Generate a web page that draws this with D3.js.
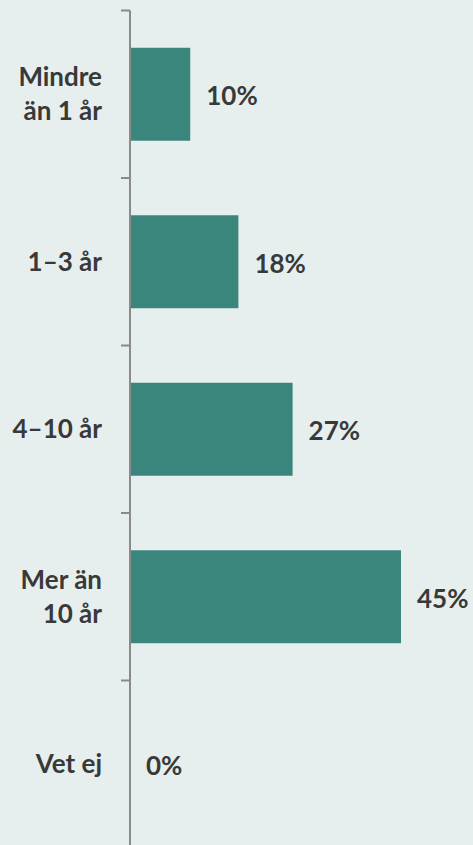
<!DOCTYPE html>
<html>
<head>
<meta charset="utf-8">
<script src="https://cdn.jsdelivr.net/npm/d3@7"></script>
<style>
  html, body { margin: 0; padding: 0; background: #e6efee; }
  svg { display: block; }
</style>
</head>
<body>
<div class="chart"></div>
<script>
const categories = [['Mindre', 'än 1 år'], ['1–3 år'], ['4–10 år'], ['Mer än', '10 år'], ['Vet ej']];
const values = [10, 18, 27, 45, 0];
const valueLabels = ['10%', '18%', '27%', '45%', '0%'];

const width = 473;
const height = 845;
const axisX = 130;
const font = 'Lato, "Open Sans", sans-serif';
const fontSize = 26;

const svg = d3.select('.chart').append('svg')
    .attr('width', width)
    .attr('height', height);

const yScale = d3.scaleBand()
    .domain(d3.range(categories.length))
    .range([10.5, 848])
    .paddingInner(0.445)
    .paddingOuter(0.2225);

const xScale = d3.scaleLinear()
    .domain([0, 45])
    .range([axisX, 401]);

const step = yScale.step();
const offset = step * yScale.paddingOuter();

// bars
svg.append('g').selectAll('rect')
    .data(values)
  .enter().append('rect')
    .attr('x', xScale(0))
    .attr('y', (d, i) => yScale(i))
    .attr('width', d => xScale(d) - xScale(0))
    .attr('height', yScale.bandwidth())
    .attr('fill', '#3a857c');

// axis line + ticks
const axis = svg.append('g').attr('stroke', '#8a8a8a').attr('stroke-width', 2);
axis.append('line')
    .attr('x1', axisX).attr('x2', axisX)
    .attr('y1', 10.5).attr('y2', 848);
axis.selectAll('.tick')
    .data(d3.range(categories.length + 1))
  .enter().append('line')
    .attr('class', 'tick')
    .attr('x1', 121).attr('x2', axisX)
    .attr('y1', i => yScale.range()[0] + i * step)
    .attr('y2', i => yScale.range()[0] + i * step);

// category labels
const catG = svg.append('g')
    .attr('font-family', font)
    .attr('font-weight', 'bold')
    .attr('font-size', fontSize)
    .attr('fill', '#393939')
    .attr('text-anchor', 'end');
categories.forEach((lines, i) => {
  const cy = yScale(i) + yScale.bandwidth() / 2;
  const lh = 34;
  const t = catG.append('text')
      .attr('x', 102)
      .attr('y', cy - (lines.length - 1) * lh / 2);
  lines.forEach((l, j) => {
    t.append('tspan')
      .attr('x', 102)
      .attr('dy', j === 0 ? '0.35em' : lh)
      .text(l);
  });
});

// value labels
svg.append('g').selectAll('text')
    .data(values)
  .enter().append('text')
    .attr('x', d => xScale(d) + 16)
    .attr('y', (d, i) => yScale(i) + yScale.bandwidth() / 2 + 2)
    .attr('dy', '0.35em')
    .attr('font-family', font)
    .attr('font-weight', 'bold')
    .attr('font-size', fontSize)
    .attr('fill', '#393939')
    .text((d, i) => valueLabels[i]);
</script>
</body>
</html>
